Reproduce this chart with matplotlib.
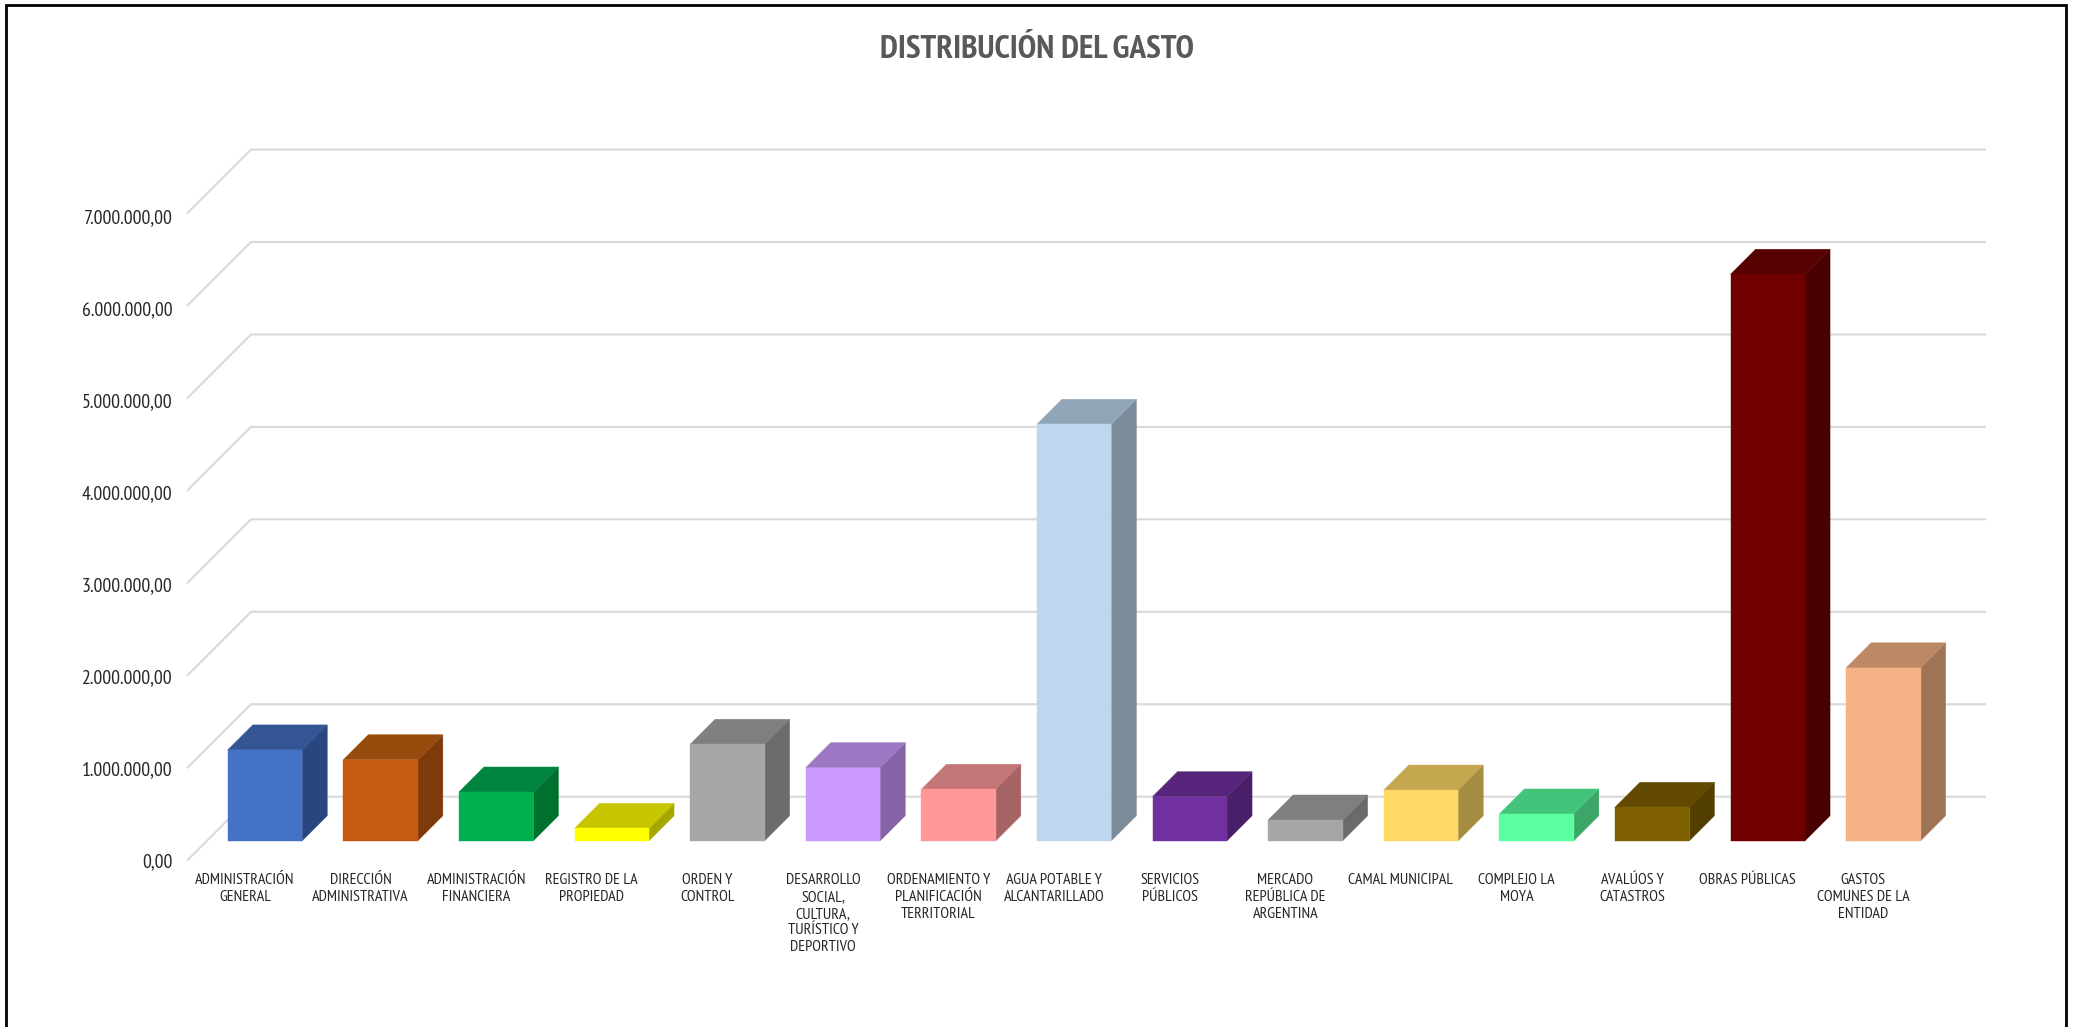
"""Distribución del gasto: 3D-look column chart drawn with flat polygons."""

import matplotlib

matplotlib.use("Agg")
import matplotlib.pyplot as plt
from matplotlib.lines import Line2D
from matplotlib.patches import Polygon

OUT = "out.png"

CATEGORIES = [
    "ADMINISTRACIÓN\nGENERAL",
    "DIRECCIÓN\nADMINISTRATIVA",
    "ADMINISTRACIÓN\nFINANCIERA",
    "REGISTRO DE LA\nPROPIEDAD",
    "ORDEN Y\nCONTROL",
    "DESARROLLO\nSOCIAL,\nCULTURA,\nTURÍSTICO Y\nDEPORTIVO",
    "ORDENAMIENTO Y\nPLANIFICACIÓN\nTERRITORIAL",
    "AGUA POTABLE Y\nALCANTARILLADO",
    "SERVICIOS\nPÚBLICOS",
    "MERCADO\nREPÚBLICA DE\nARGENTINA",
    "CAMAL MUNICIPAL",
    "COMPLEJO LA\nMOYA",
    "AVALÚOS Y\nCATASTROS",
    "OBRAS PÚBLICAS",
    "GASTOS\nCOMUNES DE LA\nENTIDAD",
]

VALUES = [
    982000, 876000, 527000, 134000, 1043000, 790000, 556000, 4504000,
    476000, 224000, 548000, 289000, 361000, 6127000, 1870000,
]

Y_TICKS = [0, 1000000, 2000000, 3000000, 4000000, 5000000, 6000000, 7000000]
Y_TICK_LABELS = [
    "0,00", "1.000.000,00", "2.000.000,00", "3.000.000,00",
    "4.000.000,00", "5.000.000,00", "6.000.000,00", "7.000.000,00",
]

FRONT_COLORS = [
    "#4472C4", "#C55A11", "#00B050", "#FFFF00", "#A6A6A6",
    "#CC99FF", "#FF9999", "#BDD7EE", "#7030A0", "#A6A6A6",
    "#FFD966", "#5CFFA1", "#7F6000", "#700000", "#F4B183",
]
TOP_COLORS = [
    "#335593", "#964B0D", "#008540", "#C6C600", "#7F7F7F",
    "#9D76C4", "#C47575", "#90A5B7", "#56257B", "#7F7F7F",
    "#C4A74E", "#43C47B", "#614900", "#560000", "#BC8865",
]
SIDE_COLORS = [
    "#2A4680", "#7F3A0A", "#00702F", "#A6A600", "#6B6B6B",
    "#8463A6", "#A66363", "#7B8C9B", "#481F68", "#6B6B6B",
    "#A68D42", "#3CA668", "#523F00", "#490000", "#9F7355",
]

# Layout, in pixels of the 2074x1027 picture
W, H = 2074, 1027
CAT_STEP = 115.6     # px per category
FIRST_CAT = 265.0    # px of first bar centre
M_STEP = 92.45       # px per million
BASE_Y = 840.7       # px of the front bottom edge of the bars
BAR_W = 74.5 / CAT_STEP
BAR_DEPTH = 25.0     # oblique offset of a bar
FLOOR_FRONT = -20.0  # front of the floor, relative to the bars' front plane
FLOOR_BACK = 44.0    # back of the floor
RIGHT_END = 1986.0
# narrow face stands in for the squeezed Calibri of the original
FONT = ["PT Sans Narrow", "Liberation Sans", "DejaVu Sans"]


def project(x, y, depth=0.0):
    """Shift a (category, value) point back along the oblique depth axis."""
    return x + depth / CAT_STEP, y + depth / M_STEP * 1e6


def main() -> None:
    fig = plt.figure(figsize=(W / 100, H / 100), dpi=100, facecolor="white")
    ax = fig.add_axes([0, 0, 1, 1])
    ax.set_xlim(-FIRST_CAT / CAT_STEP, (W - FIRST_CAT) / CAT_STEP)
    ax.set_ylim((BASE_Y - H) / M_STEP * 1e6, BASE_Y / M_STEP * 1e6)
    ax.axis("off")

    # walls: diagonal on the left, then the back line across
    right_x = (RIGHT_END - FIRST_CAT) / CAT_STEP
    left_x = -(FIRST_CAT - 207.0) / CAT_STEP
    for tick, text in zip(Y_TICKS, Y_TICK_LABELS):
        x0, y0 = project(left_x, tick, FLOOR_FRONT)
        x1, y1 = project(left_x, tick, FLOOR_BACK)
        ax.plot([x0, x1, right_x], [y0, y1, y1], color="#D9D9D9", lw=1.5,
                solid_joinstyle="miter", solid_capstyle="butt", zorder=1)
        # tick labels drift about 3 px below their lines towards the top
        drift = 1.5 + 3.0 * tick / Y_TICKS[-1]
        ax.text(x0 - 14.5 / CAT_STEP, y0 - drift / M_STEP * 1e6, text, ha="right",
                va="center", family=FONT, fontsize=14.2, color="#262626")

    for i, value in enumerate(VALUES):
        x0, x1 = i - BAR_W / 2, i + BAR_W / 2
        dx, dy = project(0, 0, BAR_DEPTH)
        front = [(x0, 0), (x1, 0), (x1, value), (x0, value)]
        side = [(x1, 0), (x1 + dx, dy), (x1 + dx, value + dy), (x1, value)]
        top = [(x0, value), (x1, value), (x1 + dx, value + dy), (x0 + dx, value + dy)]
        for pts, color in ((side, SIDE_COLORS[i]), (top, TOP_COLORS[i]), (front, FRONT_COLORS[i])):
            ax.add_patch(Polygon(pts, closed=True, facecolor=color, edgecolor=color,
                                 lw=0.3, zorder=2 + i * 0.01))

        ax.text(i - 20.0 / CAT_STEP, -32.5 / M_STEP * 1e6, CATEGORIES[i], ha="center",
                va="top", family=FONT, fontsize=11.5, color="#262626", linespacing=1.25)

    fig.text(1036.5 / W, 1 - 58 / H, "DISTRIBUCIÓN DEL GASTO", ha="center", va="baseline",
             family=FONT, fontweight="bold", fontsize=24, color="#595959")

    # frame is open at the bottom
    fx = [5.5 / W, 5.5 / W, 2066 / W, 2066 / W]
    fy = [0, 1 - 4.5 / H, 1 - 4.5 / H, 0]
    fig.add_artist(Line2D(fx, fy, color="black", lw=2.0, transform=fig.transFigure,
                          solid_joinstyle="miter"))

    fig.savefig(OUT, dpi=100)


if __name__ == "__main__":
    main()
